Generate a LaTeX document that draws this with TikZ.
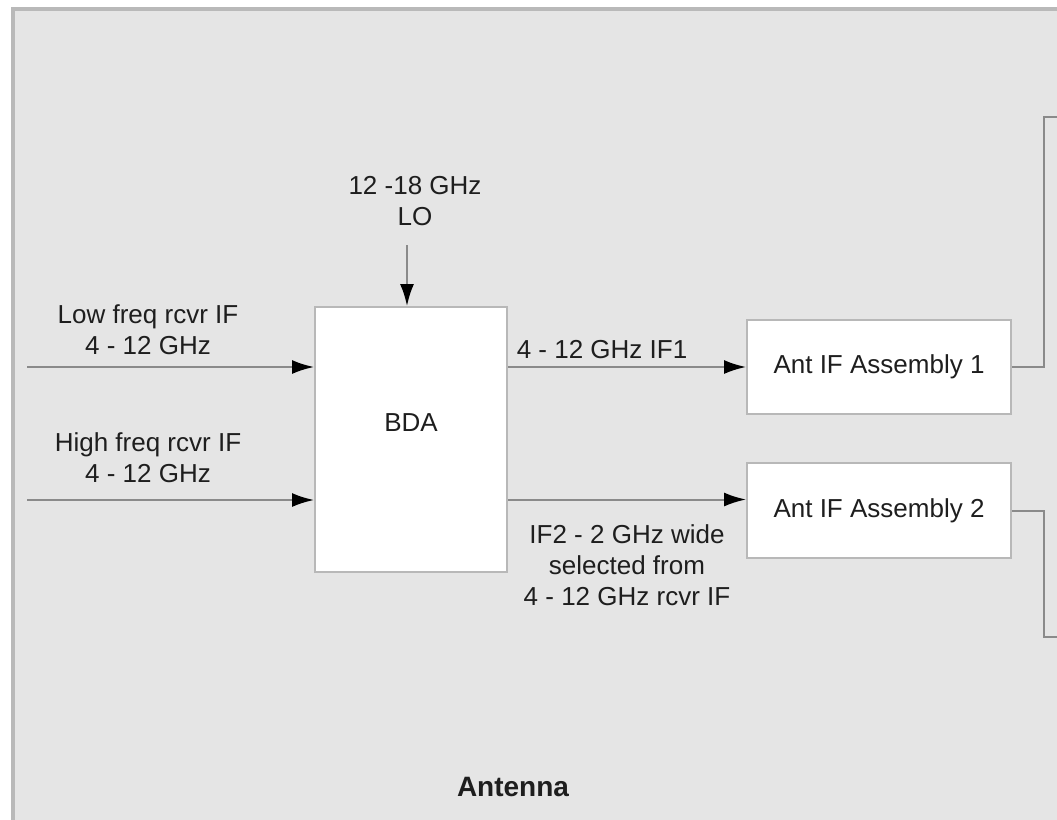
\documentclass[tikz,border=0pt]{standalone}
\usepackage{fontspec}
\setmainfont{Liberation Sans}
\usetikzlibrary{arrows.meta}
\definecolor{bgc}{HTML}{E5E5E5}
\definecolor{edgec}{HTML}{B8B8B8}
\definecolor{linec}{HTML}{8A8A8A}
\definecolor{txtc}{HTML}{1E1E1E}
\tikzset{
  box/.style={draw=edgec, line width=1pt, fill=white, inner sep=0pt},
  lbl/.style={text=txtc, font=\fontsize{13}{15.5}\selectfont, align=center, inner sep=0pt},
  wire/.style={draw=linec, line width=1pt},
  arr/.style={wire, -{Latex[length=11pt,width=7pt,color=black]}},
}
\begin{document}
\begin{tikzpicture}[x=0.5pt,y=-0.5pt]
\useasboundingbox (0,0) rectangle (1057,820);
\fill[white] (0,0) rectangle (1057,820);
\draw[fill=bgc, draw=gray!55, line width=1.75pt] (13,9) rectangle (1070,840);

% blocks
\node[box, minimum width=96pt, minimum height=132.5pt] (bda) at (411,439.5) {};
\node[lbl] (bdal) at (411,423) {BDA};
\node[box, minimum width=132pt, minimum height=47pt, lbl] (a1) at (879,367) {Ant IF Assembly 1};
\node[box, minimum width=132pt, minimum height=47.5pt, lbl] (a2) at (879,510.5) {Ant IF Assembly 2};

% labels
\node[lbl] (lo) at (415,201) {12 -18 GHz\\LO};
\node[lbl] (lowl) at (148,330) {Low freq rcvr IF\\4 - 12 GHz};
\node[lbl] (highl) at (148,458) {High freq rcvr IF\\4 - 12 GHz};
\node[lbl] (if1) at (602,350) {4 - 12 GHz IF1};
\node[lbl] (if2) at (627,565) {IF2 - 2 GHz wide\\selected from\\4 - 12 GHz rcvr IF};
\node[lbl, font=\fontsize{14}{16}\selectfont\bfseries] (ant) at (513,787) {Antenna};

% coordinates
\coordinate (lowin) at (27,367);
\coordinate (highin) at (27,500);
\coordinate (lotop) at (407,245);
\coordinate (c1) at (1044,117);
\coordinate (r1) at (1057,117);
\coordinate (c2) at (1044,637);
\coordinate (r2) at (1057,637);

% connectors
\draw[arr] (lotop) -- (lotop |- bda.north);
\draw[arr] (lowin) -- (lowin -| bda.west);
\draw[arr] (highin) -- (highin -| bda.west);
\draw[arr] (a1.west -| bda.east) -- (a1.west);
\draw[arr] ([yshift=5.5pt]a2.west -| bda.east) -- ([yshift=5.5pt]a2.west);
\draw[wire] (a1.east) -| (c1) -- (r1);
\draw[wire] (a2.east) -| (c2) -- (r2);
\end{tikzpicture}
\end{document}
